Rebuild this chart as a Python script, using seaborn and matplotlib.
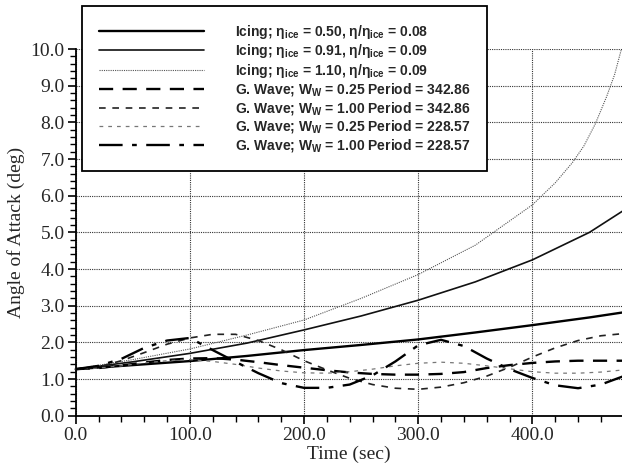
import numpy as np
import pandas as pd
import matplotlib
matplotlib.use("Agg")
import matplotlib.pyplot as plt
import seaborn as sns

# ---------------- data ----------------
t_ice = [0, 50, 100, 150, 200, 250, 300, 350, 400, 450, 480]
ice_050 = [1.27, 1.38, 1.49, 1.63, 1.79, 1.93, 2.08, 2.27, 2.47, 2.68, 2.82]
ice_091 = [1.27, 1.47, 1.70, 1.98, 2.34, 2.72, 3.15, 3.65, 4.25, 5.00, 5.60]

t_ice110 = [0, 50, 100, 150, 200, 250, 300, 350, 400, 420, 435, 445, 455, 465, 472, 478]
ice_110 = [1.27, 1.53, 1.82, 2.20, 2.61, 3.20, 3.85, 4.65, 5.75, 6.35, 6.90, 7.35, 7.95, 8.70, 9.30, 10.00]

t_wave = [0, 20, 40, 60, 80, 100, 120, 140, 160, 180, 200, 220, 240,
          260, 280, 300, 320, 340, 360, 380, 400, 420, 440, 460, 480]
wave_025_343 = [1.27, 1.30, 1.37, 1.45, 1.52, 1.56, 1.57, 1.53, 1.46, 1.38, 1.31, 1.24, 1.18,
                1.14, 1.12, 1.12, 1.14, 1.19, 1.30, 1.38, 1.44, 1.48, 1.50, 1.50, 1.50]
wave_100_343 = [1.27, 1.33, 1.50, 1.72, 1.95, 2.12, 2.22, 2.22, 2.05, 1.80, 1.50, 1.25, 1.02,
                0.85, 0.75, 0.72, 0.78, 0.90, 1.08, 1.32, 1.60, 1.85, 2.05, 2.18, 2.24]
wave_025_229 = [1.27, 1.30, 1.36, 1.44, 1.50, 1.53, 1.48, 1.40, 1.30, 1.22, 1.17, 1.16, 1.20,
                1.27, 1.36, 1.43, 1.46, 1.43, 1.36, 1.28, 1.20, 1.16, 1.16, 1.19, 1.25]
wave_100_229 = [1.27, 1.36, 1.55, 1.85, 2.05, 2.12, 1.79, 1.47, 1.16, 0.89, 0.76, 0.76, 0.85,
                1.10, 1.48, 1.92, 2.07, 1.90, 1.56, 1.27, 1.03, 0.83, 0.75, 0.85, 1.08]

labels = [
    r"Icing; η$_{\mathrm{ice}}$ = 0.50, η/η$_{\mathrm{ice}}$ = 0.08",
    r"Icing; η$_{\mathrm{ice}}$ = 0.91, η/η$_{\mathrm{ice}}$ = 0.09",
    r"Icing; η$_{\mathrm{ice}}$ = 1.10, η/η$_{\mathrm{ice}}$ = 0.09",
    r"G. Wave; W$_{\mathrm{W}}$ = 0.25 Period = 342.86",
    r"G. Wave; W$_{\mathrm{W}}$ = 1.00 Period = 342.86",
    r"G. Wave; W$_{\mathrm{W}}$ = 0.25 Period = 228.57",
    r"G. Wave; W$_{\mathrm{W}}$ = 1.00 Period = 228.57",
]
x_ticks = [0, 100, 200, 300, 400]
y_ticks = [0, 1, 2, 3, 4, 5, 6, 7, 8, 9, 10]

# ---------------- style ----------------
sns.set_style("ticks")
plt.rcParams["font.family"] = ["Liberation Serif", "DejaVu Serif"]
plt.rcParams["mathtext.fontset"] = "custom"
plt.rcParams["mathtext.rm"] = "Liberation Sans:bold"
plt.rcParams["mathtext.bf"] = "Liberation Sans:bold"
plt.rcParams["mathtext.it"] = "Liberation Sans:bold"

fig = plt.figure(figsize=(6.22, 4.73), dpi=100)
ax = fig.add_axes([0.1217, 0.1211, 0.8783, 0.7753])

series = [
    (t_ice, ice_050, dict(color="black", lw=1.7, ls="-")),
    (t_ice, ice_091, dict(color="#111111", lw=1.2, ls="-")),
    (t_ice110, ice_110, dict(color="#555555", lw=0.8, ls=(0, (1, 1)))),
    (t_wave, wave_025_343, dict(color="black", lw=1.7, ls=(0, (6, 4)))),
    (t_wave, wave_100_343, dict(color="#222222", lw=1.2, ls=(0, (4, 4)))),
    (t_wave, wave_025_229, dict(color="#777777", lw=0.9, ls=(0, (3, 4)))),
    (t_wave, wave_100_229, dict(color="black", lw=1.7, ls=(0, (10, 4, 2, 4)))),
]

for (t, y, st), lab in zip(series, labels):
    df = pd.DataFrame({"t": t, "y": y})
    sns.lineplot(data=df, x="t", y="y", ax=ax, color=st["color"], linewidth=st["lw"],
                 linestyle=st["ls"], label=lab, legend=False, clip_on=False, zorder=3)

ax.set_xlim(0, 478.5)
ax.set_ylim(0, 10.0)
ax.set_xticks(x_ticks)
ax.set_xticklabels([f"{v:.1f}" for v in x_ticks])
ax.set_yticks(y_ticks)
ax.set_yticklabels([f"{v:.1f}" for v in y_ticks])
ax.set_xticks(np.arange(0, 480, 20), minor=True)
ax.set_yticks(np.arange(0, 10.01, 0.2), minor=True)
ax.tick_params(axis="both", which="major", direction="out", length=6, width=1.2,
               labelsize=14, pad=2, color="black")
ax.tick_params(axis="both", which="minor", direction="out", length=4, width=1.0, color="black")

ax.grid(True, which="major", color="#333333", linestyle=(0, (1, 1)), linewidth=0.8, zorder=0)
ax.set_axisbelow(True)
for s in ["top", "right"]:
    ax.spines[s].set_visible(False)
for s in ["left", "bottom"]:
    ax.spines[s].set_linewidth(1.3)
    ax.spines[s].set_color("black")

ax.set_xlabel("Time (sec)", fontsize=14, labelpad=1)
ax.set_ylabel("Angle of Attack (deg)", fontsize=14, labelpad=4)

h, l = ax.get_legend_handles_labels()
leg = fig.legend(h, l, loc="upper left", bbox_to_anchor=(0.132, 0.987),
                 bbox_transform=fig.transFigure, frameon=True, fancybox=False,
                 framealpha=1, edgecolor="black", borderaxespad=0, borderpad=1.2,
                 handlelength=7.6, handletextpad=2.2, labelspacing=0.11,
                 prop={"family": "Liberation Sans", "weight": "bold", "size": 10})
leg.get_frame().set_linewidth(1.3)

fig.savefig("out.png", dpi=100)
